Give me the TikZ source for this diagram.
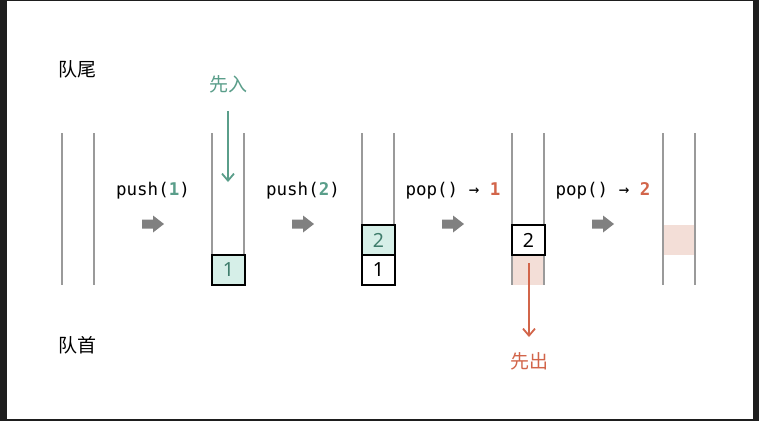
\documentclass[tikz,border=0pt]{standalone}
\usepackage{fontspec}
\setmonofont{DejaVu Sans Mono}
\setsansfont{Noto Sans}
\newfontfamily\cjkfont{Noto Sans CJK SC}
\usetikzlibrary{arrows.meta,positioning}
\definecolor{framedark}{HTML}{1E1E1E}
\definecolor{tubegray}{HTML}{9A9A9A}
\definecolor{pushteal}{HTML}{5A9E8A}
\definecolor{cellteal}{HTML}{3F7D6C}
\definecolor{mint}{HTML}{D6EFE8}
\definecolor{popred}{HTML}{D2654A}
\definecolor{popfill}{HTML}{F3DED7}
\definecolor{movegray}{HTML}{808080}
\tikzset{
	tube/.style={draw=tubegray, line width=1.4pt},
	cell/.style={draw=black, line width=2pt, minimum width=33pt, minimum height=30pt, inner sep=0pt, font=\sffamily\fontsize{19.5}{19.5}\selectfont},
	oplabel/.style={inner sep=0pt, anchor=base, font=\ttfamily\fontsize{17.5}{17.5}\selectfont},
	endlabel/.style={inner sep=0pt, anchor=west, font=\cjkfont\fontsize{19}{19}\selectfont},
	movearrow/.pic={\fill[movegray] (-11,-4.5) -- (0,-4.5) -- (0,-8.5) -- (11,0) -- (0,8.5) -- (0,4.5) -- (-11,4.5) -- cycle;},
	flowarrow/.style={line width=1.8pt, -{Straight Barb[length=7pt,width=12pt,line width=1.8pt]}},
}
\begin{document}
\begin{tikzpicture}[x=1pt,y=-1pt]
% frame
\fill[framedark] (0,0) rectangle (759,421);
\fill[white] (7,1) rectangle (753,419);
% freed slots
\fill[popfill] (512,255) rectangle (545,285);
\fill[popfill] (663,225) rectangle (695,255);
% tubes
\foreach \x in {62,212,362,512,663}{
	\draw[tube] (\x,133) -- (\x,285);
	\draw[tube] (\x+32,133) -- (\x+32,285);
}
% cells
\node[cell, fill=mint, text=cellteal] (a1) at (228.5,270) {1};
\node[cell, fill=mint, text=cellteal] (b2) at (378.5,240) {2};
\node[cell, fill=white] (b1) at (378.5,270) {1};
\node[cell, fill=white] (c2) at (528.5,240) {2};
% operations
\node[oplabel] (op1) at (153,195) {push(\textbf{\color{pushteal}1})};
\node[oplabel] (op2) at (303,195) {push(\textbf{\color{pushteal}2})};
\node[oplabel] (op3) at (453,195) {pop() → \textbf{\color{popred}1}};
\node[oplabel] (op4) at (603,195) {pop() → \textbf{\color{popred}2}};
\foreach \x in {153,303,453,603}
	\pic at (\x,224) {movearrow};
% ends
\node[endlabel] (rear) at (58,69) {队尾};
\node[endlabel] (front) at (58,345) {队首};
\node[endlabel, anchor=center, text=pushteal] (inlabel) at (228,84) {先入};
\node[endlabel, anchor=center, text=popred] (outlabel) at (529,361) {先出};
\coordinate (intip) at (228,182);
\coordinate (outtail) at (529,263);
\draw[flowarrow, draw=pushteal, shorten <=18pt] (inlabel) -- (intip);
\draw[flowarrow, draw=popred, shorten >=15pt] (outtail) -- (outlabel);
\end{tikzpicture}
\end{document}
